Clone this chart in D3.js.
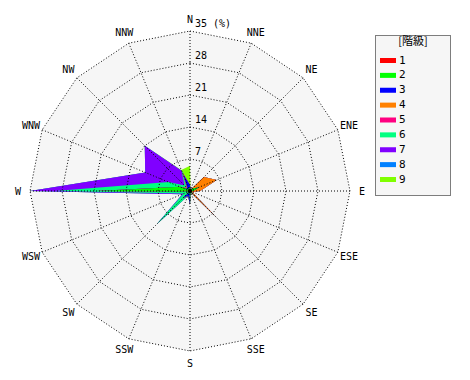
<!DOCTYPE html>
<html><head><meta charset="utf-8">
<script src="https://cdn.jsdelivr.net/npm/d3@7"></script>
<style>body{margin:0;background:#fff}svg{display:block}</style>
</head><body>
<svg id="c" width="470" height="380"></svg>
<script>
// 16 directions, clockwise from N
const directions = ["N","NNE","NE","ENE","E","ESE","SE","SSE","S","SSW","SW","WSW","W","WNW","NW","NNW"];
const classNames = ["1","2","3","4","5","6","7","8","9"];
const classColors = ["#ff0000","#00ff00","#0000ff","#ff8000","#ff0080","#00ff80","#8000ff","#0080ff","#80ff00"];
const ticks = [7,14,21,28,35];
// frequency (%) per class per direction
const class1 = [0.3,0,0,0.2,0.2,0,0.3,0,3.0,0,0.2,0,2.5,0.2,0.2,0.2];
const class2 = [0.5,0.3,0.8,2.0,0.5,0.2,1.0,0.3,0,0.3,1.5,0.3,17.5,2.2,0.3,0.5];
const class3 = [0.5,0,0,0,0,0,0,0,0,0.8,0.6,0,0.5,0,0.3,3.3];
const class4 = [0,0,3.5,4.1,1.5,0.3,7.1,0,0,0,0,0,0,0,0.2,0.3];
const class5 = [0,0,0,0,0,0,0,0,0,0,0,0,0,0,0,0];
const class6 = [0,0,0,0,0,0,0,0,0,0,8.0,1.2,9.0,2.7,0.7,0.5];
const class7 = [0,0,0,0,0,0,0,0,0,0,0,0.3,5.5,5.5,12.3,0];
const class8 = [0,0,0,0,0,0,0,0,0,0,0,0,0,0,0,0];
const class9 = [4.2,0,0,0,0,0,0,0,0,0,0,0,0,0,0,0.2];
const classValues = [class1,class2,class3,class4,class5,class6,class7,class8,class9];

const svg = d3.select("#c");
const cx = 190, cy = 191;
const r = d3.scaleLinear().domain([0,35]).range([0,160]);
const ang = d3.scaleLinear().domain([0,directions.length]).range([0,2*Math.PI]);
const font = "'DejaVu Sans Mono', monospace";

const g = svg.append("g").attr("transform",`translate(${cx},${cy})`);
const ring = d3.lineRadial().angle((d,i)=>ang(i)).radius(d=>r(d)).curve(d3.curveLinearClosed);

// background
g.append("path").attr("d", ring(directions.map(()=>35))).attr("fill","#f6f6f6").attr("stroke","none");

// stacked cumulative series
const cum = [];
classValues.forEach((vals,k)=>{
  cum.push(vals.map((v,i)=> v + (k>0 ? cum[k-1][i] : 0)));
});
for (let k = cum.length-1; k>=0; k--) {
  g.append("path").attr("d", ring(cum[k])).attr("fill", classColors[k]).attr("stroke","none");
}

// grid
ticks.forEach(t=>{
  g.append("path").attr("d", ring(directions.map(()=>t)))
    .attr("fill","none").attr("stroke","#000").attr("stroke-width",1).attr("stroke-dasharray","1,2");
});
directions.forEach((d,i)=>{
  const a = ang(i);
  g.append("line").attr("x1",0).attr("y1",0)
    .attr("x2", r(35)*Math.sin(a)).attr("y2", -r(35)*Math.cos(a))
    .attr("stroke","#000").attr("stroke-width",1).attr("stroke-dasharray","1,2");
  g.append("text").attr("x", 172*Math.sin(a)).attr("y", -172*Math.cos(a))
    .attr("text-anchor","middle").attr("dominant-baseline","central")
    .attr("font-family",font).attr("font-size",10).attr("fill","#000").text(d);
});
g.append("circle").attr("r",2.2).attr("fill","#000");

// tick labels
ticks.forEach(t=>{
  g.append("text").attr("x",5).attr("y",-r(t)-4)
    .attr("font-family",font).attr("font-size",10).attr("fill","#000")
    .text(t===35 ? "35 (%)" : String(t));
});

// legend
const lg = svg.append("g");
lg.append("rect").attr("x",375.5).attr("y",35.5).attr("width",75).attr("height",160)
  .attr("fill","#f6f6f6").attr("stroke","#000").attr("stroke-dasharray","1,1");
lg.append("text").attr("x",413).attr("y",45).attr("text-anchor","middle")
  .attr("font-family","'Noto Sans CJK JP', sans-serif").attr("font-size",11).text("[階級]");
const ly = d3.scaleLinear().domain([0,8]).range([60,179]);
classNames.forEach((c,k)=>{
  lg.append("rect").attr("x",380).attr("y",ly(k)-2).attr("width",16).attr("height",5).attr("fill",classColors[k]);
  lg.append("text").attr("x",399).attr("y",ly(k)).attr("dominant-baseline","central")
    .attr("font-family",font).attr("font-size",11).text(c);
});
</script>
</body></html>
